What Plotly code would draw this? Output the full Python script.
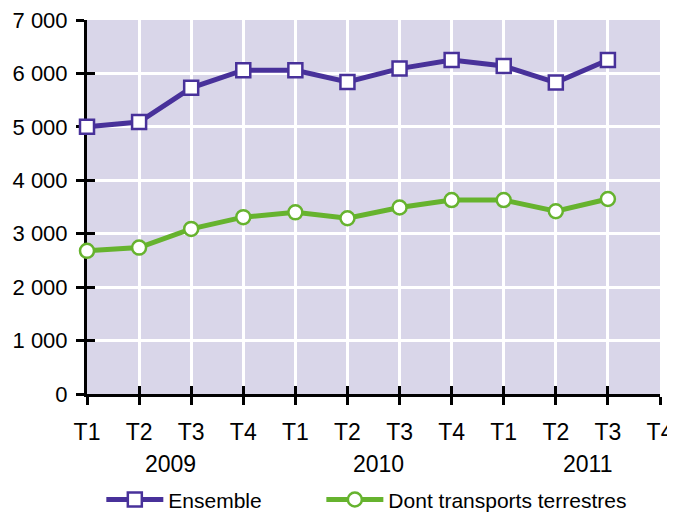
import plotly.graph_objects as go

# trimestres (T1 2009 -> T4 2011)
trimestres = ["T1", "T2", "T3", "T4", "T1", "T2", "T3", "T4", "T1", "T2", "T3", "T4"]
annees = ["2009", "2010", "2011"]
ensemble = [5000, 5090, 5730, 6060, 6060, 5840, 6090, 6250, 6140, 5830, 6250]
terrestres = [2680, 2740, 3090, 3310, 3400, 3290, 3490, 3630, 3630, 3420, 3650]

violet = "#48319a"
vert = "#66b32e"
police = "Liberation Sans, Arial, sans-serif"
taille = 23

xs = list(range(len(ensemble)))

fig = go.Figure()
fig.add_trace(go.Scatter(
    x=xs, y=ensemble, name="Ensemble", mode="lines+markers",
    line=dict(color=violet, width=5),
    marker=dict(symbol="square", size=14, color="white", line=dict(color=violet, width=2.5)),
    cliponaxis=False, legend="legend",
))
fig.add_trace(go.Scatter(
    x=xs, y=terrestres, name="Dont transports terrestres", mode="lines+markers",
    line=dict(color=vert, width=5),
    marker=dict(symbol="circle", size=14, color="white", line=dict(color=vert, width=2.5)),
    cliponaxis=False, legend="legend2",
))

# libellés des années sous les trimestres
for i, a in enumerate(annees):
    fig.add_annotation(x=4 * i + 1.6, y=0, xref="x", yref="paper", yanchor="top",
                       yshift=-55, text=a, showarrow=False,
                       font=dict(size=taille, color="black", family=police))

axe_commun = dict(showgrid=True, gridcolor="white", gridwidth=2.5,
                  showline=True, linecolor="black", linewidth=3,
                  ticks="outside", ticklen=8, tickwidth=3, tickcolor="black",
                  zeroline=False, layer="below traces", automargin=False,
                  ticklabeloverflow="allow")

leg = dict(orientation="h", xanchor="left", y=-0.283, yanchor="middle",
           font=dict(size=21, family=police), itemwidth=57,
           bgcolor="rgba(0,0,0,0)")

# la page ajoute une marge de 8 px autour de la figure
fig.update_layout(
    template="none",
    width=667, height=505,
    margin=dict(l=79, r=15, t=12, b=119, autoexpand=False),
    paper_bgcolor="white", plot_bgcolor="#d9d6e9",
    font=dict(family=police, size=taille, color="black"),
    showlegend=True,
    legend=dict(x=0.025, **leg),
    legend2=dict(x=0.409, **leg),
    xaxis=dict(range=[0, 11], tickvals=list(range(12)), ticktext=trimestres,
               ticklabelstandoff=7, tickfont=dict(size=taille, family=police, color="black"),
               **axe_commun),
    yaxis=dict(range=[0, 7000], tickvals=list(range(0, 7001, 1000)),
               ticktext=["0", "1 000", "2 000", "3 000", "4 000", "5 000", "6 000", "7 000"],
               ticklabelstandoff=4, tickfont=dict(size=22, family=police, color="black"),
               **axe_commun),
    xaxis2=dict(overlaying="x", matches="x", range=[0, 11], tickvals=list(range(12)),
                showticklabels=False, showgrid=False, zeroline=False,
                ticks="inside", ticklen=8, tickwidth=3, tickcolor="black", side="bottom",
                layer="below traces"),
    yaxis2=dict(overlaying="y", matches="y", range=[0, 7000], tickvals=list(range(0, 7001, 1000)),
                showticklabels=False, showgrid=False, zeroline=False,
                ticks="inside", ticklen=8, tickwidth=3, tickcolor="black", side="left",
                layer="below traces"),
)
# trace invisible pour afficher les axes secondaires (graduations traversantes)
fig.add_trace(go.Scatter(x=[0], y=[0], xaxis="x2", yaxis="y2", mode="markers",
                         marker=dict(opacity=0), showlegend=False, hoverinfo="skip"))

fig.write_html("out.html")
